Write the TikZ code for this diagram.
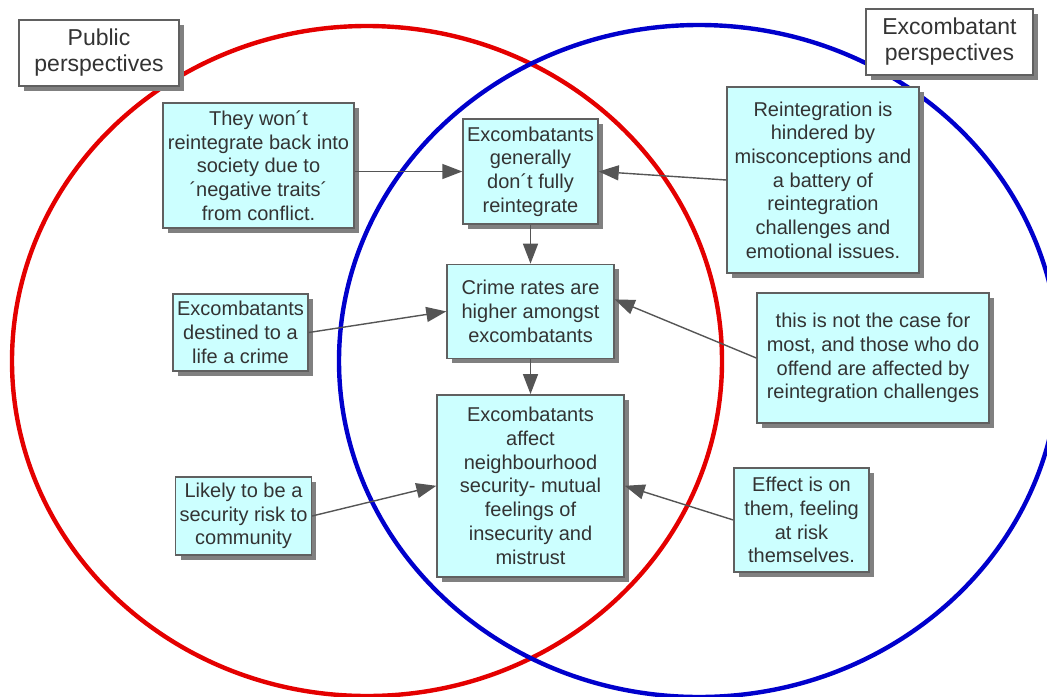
\documentclass[tikz,border=0pt]{standalone}
\usepackage{fontspec}
\setmainfont{Liberation Sans}
\usepackage{xcolor}
\usetikzlibrary{arrows.meta,positioning,shadows}
\definecolor{pubred}{RGB}{228,0,0}
\definecolor{exblue}{RGB}{0,0,204}
\definecolor{ideacyan}{RGB}{204,255,255}
\definecolor{edgegray}{RGB}{96,96,96}
\definecolor{shadegray}{RGB}{128,128,128}
\definecolor{arrgray}{RGB}{85,85,85}

\begin{document}
\begin{tikzpicture}[x=0.5pt, y=-0.5pt, font=\fontsize{10}{11.85}\selectfont, node distance=18pt,
  box/.style={draw=edgegray, line width=0.7pt, align=center, inner sep=2pt, text=black!80,
    drop shadow={shadow xshift=2.5pt, shadow yshift=-2.5pt, fill=shadegray, opacity=1}},
  idea/.style={box, fill=ideacyan}, hd/.style={box, fill=white, font=\fontsize{11.5}{13}\selectfont},
  ring/.style={line width=2.2pt},
  arr/.style={-{Triangle[length=10pt, width=7.5pt]}, arrgray, line width=0.7pt}]
\useasboundingbox (0,0) rectangle (1047,696);
% the two sets of perspectives
\draw[ring, pubred] (367,361) ellipse [x radius=177.5pt, y radius=167.5pt];
\draw[ring, exblue] (699,361) ellipse [x radius=180pt, y radius=168pt];
\node[hd, minimum width=80pt, minimum height=33pt] (pub) at (99,53) {Public\\perspectives};
\node[hd, minimum width=83.5pt, minimum height=33pt] (exc) at (949.5,42) {Excombatant\\perspectives};
% shared beliefs
\node[idea, minimum width=67.5pt, minimum height=52.5pt] (notfull) at (530.5,171.5) {Excombatants\\generally\\don´t fully\\reintegrate};
\node[idea, minimum width=83.5pt, minimum height=47pt, below=19.5pt of notfull] (crime) {Crime rates are\\higher amongst\\excombatants};
\node[idea, minimum width=93.5pt, minimum height=91pt, below=17.5pt of crime] (secur) {Excombatants\\affect\\neighbourhood\\security- mutual\\feelings of\\insecurity and\\mistrust};
% public side
\node[idea, minimum width=95.5pt, minimum height=62.5pt] (traits) at (258.5,165.5) {They won´t\\reintegrate back into\\society due to\\´negative traits´\\from conflict.};
\node[idea, minimum width=67.5pt, minimum height=38.5pt] (destined) at (240.5,332.5) {Excombatants\\destined to a\\life a crime};
\node[idea, minimum width=67.5pt, minimum height=39pt] (risk) at (243.5,516) {Likely to be a\\security risk to\\community};
% excombatant side
\node[idea, minimum width=96pt, minimum height=93pt] (hinder) at (823,180) {Reintegration is\\hindered by\\misconceptions and\\a battery of\\reintegration\\challenges and\\emotional issues.};
\node[idea, minimum width=116pt, minimum height=65pt] (notcase) at (873,358) {this is not the case for\\most, and those who do\\offend are affected by\\reintegration challenges};
\node[idea, minimum width=67.5pt, minimum height=52pt] (effect) at (801.5,520) {Effect is on\\them, feeling\\at risk\\themselves.};
\draw[arr] (traits.east |- notfull) -- (notfull.west);
\draw[arr] (hinder.west) -- (notfull.east);
\draw[arr] (notfull.south) -- (notfull.south |- crime.north);
\draw[arr] (destined.east) -- (crime.west);
\draw[arr] (notcase.west) -- ([yshift=6pt]crime.east);
\draw[arr] (crime.south) -- (crime.south |- secur.north);
\draw[arr] (risk.east) -- (secur.west);
\draw[arr] (effect.west) -- (secur.east);
\end{tikzpicture}
\end{document}
